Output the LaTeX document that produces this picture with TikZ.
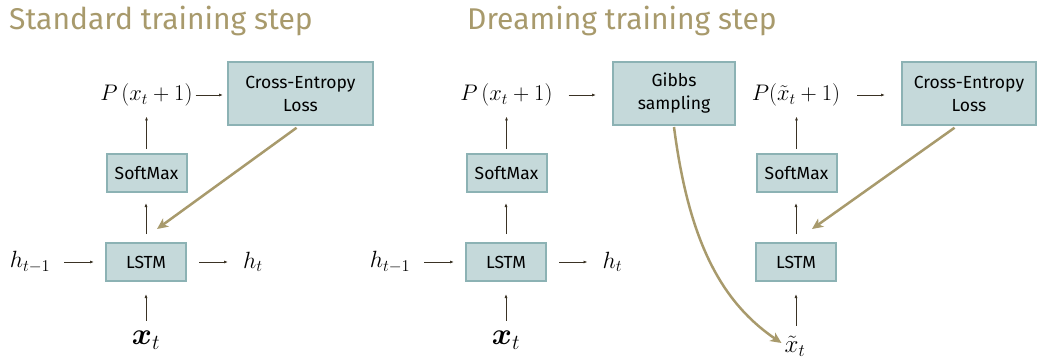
\RequirePackage{fix-cm}
\documentclass[tikz,border=0pt]{standalone}
\usepackage{amsmath}
\usepackage{bm}
\usepackage{fontspec}
\newfontfamily\firafont{Fira Sans}
\usetikzlibrary{arrows.meta,calc}
\definecolor{tanc}{HTML}{A89A6C}
\definecolor{boxfill}{HTML}{C5D9DA}
\definecolor{boxline}{HTML}{8CB2B4}
\definecolor{arrc}{HTML}{3A3224}
\begin{document}
\begin{tikzpicture}[x=1pt,y=-1pt,
  titletext/.style={font=\firafont\fontsize{30}{34}\selectfont, text=tanc, inner sep=0pt, anchor=base west},
  boxbase/.style={draw=boxline, line width=2pt, fill=boxfill, font=\firafont\fontsize{17.5}{23}\selectfont, align=center, inner sep=0pt},
  bigbox/.style={boxbase, minimum height=63pt},
  smallbox/.style={boxbase, minimum width=80pt, minimum height=38pt},
  mth/.style={font=\fontsize{22.5}{27}\selectfont, inner sep=0pt},
  hmth/.style={font=\fontsize{23.5}{28}\selectfont, inner sep=0pt},
  bigx/.style={font=\fontsize{30.5}{36}\selectfont, inner sep=0pt},
  arr/.style={draw=arrc, line width=0.9pt, -{Latex[length=4pt,width=3pt]}},
  tanarr/.style={draw=tanc, line width=2.5pt, -{Stealth[length=11pt,width=10pt,inset=3pt]}}
]
\useasboundingbox (0,0) rectangle (1037,360);

% titles
\node[titletext] (t1) at (9,29) {Standard training step};
\node[titletext] (t2) at (467,29) {Dreaming training step};

% ---------- standard ----------
\node[bigbox, minimum width=145pt] (ce1) at (300.5,93.5) {Cross-Entropy\\Loss};
\node[mth] (p1) at (146.5,95) {$P\left(x_t+1\right)$};
\node[smallbox] (sm1) at (146.5,173) {SoftMax};
\node[smallbox] (l1) at (146,262) {LSTM};
\node[hmth] (hp1) at (30,262) {$h_{t-1}$};
\node[hmth] (hn1) at (253,262) {$h_t$};
\node[bigx] (x1) at (146,340) {$\bm{x}_t$};

\draw[arr, shorten <=3pt, shorten >=4pt] (p1.east) -- (p1.east -| ce1.west);
\draw[arr, shorten <=4pt, shorten >=10pt] (sm1.north) -- (sm1.north |- p1.south);
\draw[arr, shorten <=8pt, shorten >=10pt] (l1.north) -- (l1.north |- sm1.south);
\draw[arr, shorten <=14pt, shorten >=11pt] (hp1) -- (l1);
\draw[arr, shorten <=12pt, shorten >=15pt] (l1) -- (hn1);
\draw[arr, shorten <=10pt, shorten >=12pt] (x1.north -| l1.south) -- (l1.south);
\draw[tanarr, shorten <=3pt] ([xshift=-1.5pt]ce1.south) -- ([shift={(11,-13)}]l1.north);

% ---------- dreaming ----------
\node[mth] (p2) at (506.5,95) {$P\left(x_t+1\right)$};
\node[bigbox, minimum width=122pt] (gb) at (674,93.5) {Gibbs\\sampling};
\node[smallbox] (sm2) at (506.5,173) {SoftMax};
\node[smallbox] (l2) at (506,262) {LSTM};
\node[hmth] (hp2) at (390,262) {$h_{t-1}$};
\node[hmth] (hn2) at (612.5,262) {$h_t$};
\node[bigx] (x2) at (506,340) {$\bm{x}_t$};

\node[mth] (p3) at (796,95) {$P(\tilde{x}_t+1)$};
\node[bigbox, minimum width=134pt] (ce2) at (969,93.5) {Cross-Entropy\\Loss};
\node[smallbox] (sm3) at (796.5,173) {SoftMax};
\node[smallbox] (l3) at (796,262) {LSTM};
\node[font=\fontsize{25}{30}\selectfont, inner sep=0pt] (xt3) at (795,346) {$\tilde{x}_t$};

\draw[arr, shorten <=16pt, shorten >=16pt] (p2.east) -- (p2.east -| gb.west);
\draw[arr, shorten <=4pt, shorten >=10pt] (sm2.north) -- (sm2.north |- p2.south);
\draw[arr, shorten <=8pt, shorten >=10pt] (l2.north) -- (l2.north |- sm2.south);
\draw[arr, shorten <=14pt, shorten >=11pt] (hp2) -- (l2);
\draw[arr, shorten <=12pt, shorten >=15pt] (l2) -- (hn2);
\draw[arr, shorten <=10pt, shorten >=12pt] (x2.north -| l2.south) -- (l2.south);

\draw[arr, shorten <=17pt, shorten >=16pt] (p3.east) -- (p3.east -| ce2.west);
\draw[arr, shorten <=4pt, shorten >=10pt] (sm3.north) -- (sm3.north |- p3.south);
\draw[arr, shorten <=8pt, shorten >=10pt] (l3.north) -- (l3.north |- sm3.south);
\draw[arr, shorten <=10pt, shorten >=12pt] (xt3.north -| l3.south) -- (l3.south);
\draw[tanarr, shorten <=3pt] ([xshift=-12pt]ce2.south) -- ([shift={(16,-13)}]l3.north);

\draw[tanarr] ([yshift=-1pt]gb.south) .. controls (688,235) and (718,300) .. ([shift={(-3,-3)}]xt3.west);
\end{tikzpicture}
\end{document}
